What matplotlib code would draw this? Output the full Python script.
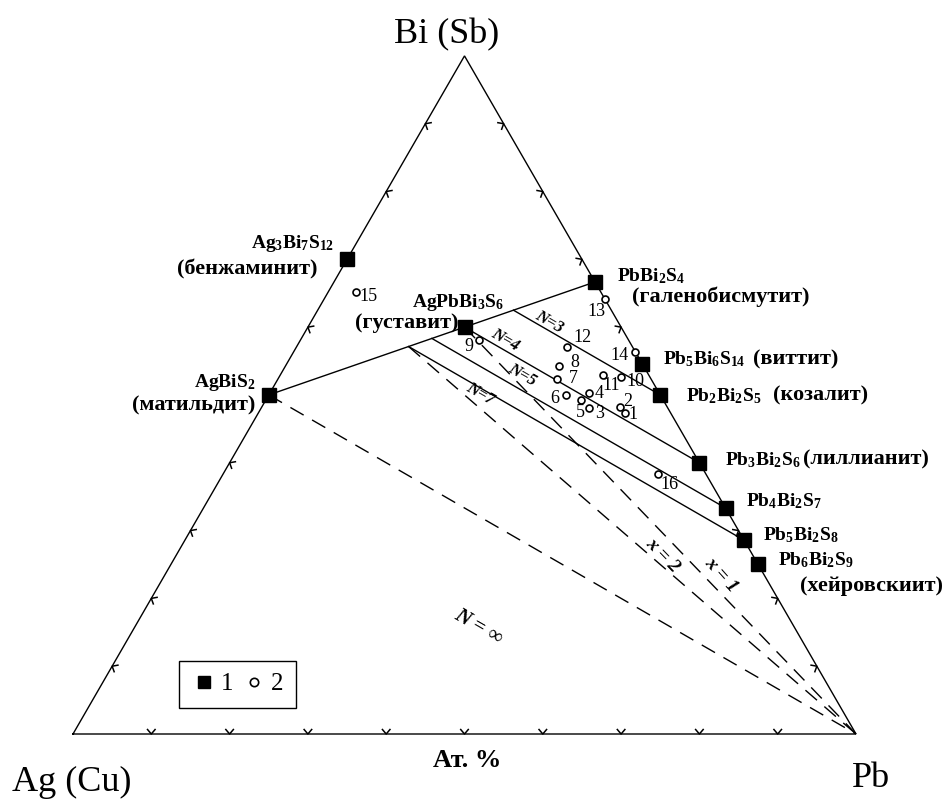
import numpy as np
import matplotlib.pyplot as plt
from matplotlib.lines import Line2D

plt.rcParams['font.family'] = 'Liberation Serif'
plt.rcParams['mathtext.fontset'] = 'custom'
plt.rcParams['mathtext.rm'] = 'Liberation Serif:bold'
plt.rcParams['mathtext.it'] = 'Liberation Serif:italic:bold'
plt.rcParams['mathtext.bf'] = 'Liberation Serif:bold'

H = np.sqrt(3) / 2

# minerals (atoms Ag, Bi, Pb)
min_formula = [r'AgBiS$_2$', r'Ag$_3$Bi$_7$S$_{12}$', r'AgPbBi$_3$S$_6$', r'PbBi$_2$S$_4$',
               r'Pb$_5$Bi$_6$S$_{14}$', r'Pb$_2$Bi$_2$S$_5$', r'Pb$_3$Bi$_2$S$_6$',
               r'Pb$_4$Bi$_2$S$_7$', r'Pb$_5$Bi$_2$S$_8$', r'Pb$_6$Bi$_2$S$_9$']
min_name = ['(матильдит)', '(бенжаминит)', '(густавит)', '(галенобисмутит)', '(виттит)',
            '(козалит)', '(лиллианит)', '', '', '(хейровскиит)']
min_ag = [1, 3, 1, 0, 0, 0, 0, 0, 0, 0]
min_bi = [1, 7, 3, 2, 6, 2, 2, 2, 2, 2]
min_pb = [0, 0, 1, 1, 5, 2, 3, 4, 5, 6]

# analyses (at. fractions Ag, Bi, Pb)
pt_label = ['1', '2', '3', '4', '5', '6', '7', '8', '9', '10', '11', '12', '13', '14', '15', '16']
pt_ag = [0.059, 0.061, 0.100, 0.089, 0.105, 0.121, 0.120, 0.108, 0.190, 0.037, 0.058, 0.083, 0.0, 0.0, 0.312, 0.062]
pt_bi = [0.473, 0.482, 0.481, 0.503, 0.493, 0.500, 0.524, 0.543, 0.581, 0.527, 0.530, 0.571, 0.641, 0.564, 0.652, 0.383]
pt_pb = [0.468, 0.457, 0.419, 0.408, 0.402, 0.379, 0.356, 0.349, 0.228, 0.436, 0.412, 0.346, 0.359, 0.436, 0.036, 0.555]

# homologue lines Ag(m) Pb(N-1-2m) Bi(2+m): from the AgBiS2-PbBi2S4 join to the Pb-Bi member
n_label = ['N=3', 'N=4', 'N=5', 'N=7']
n_pb = [2, 3, 4, 5]  # Pb atoms of the Pb-Bi end member where each line ends

# dashed rays to Pb corner (start compositions Ag, Bi, Pb)
ray_label = ['N = ∞', 'x = 1', 'x = 2']
ray_start = [(1, 1, 0), (1, 3, 1), (2, 4, 1)]


def tern(ag, bi, pb):
    ag, bi, pb = np.asarray(ag, float), np.asarray(bi, float), np.asarray(pb, float)
    s = ag + bi + pb
    return (pb + 0.5 * bi) / s, H * bi / s


def px2data(x, y):
    return (x - 73) / 783, (734 - y) / 783


fig = plt.figure(figsize=(9.49, 7.99), dpi=100)
ax = fig.add_axes([0, 0, 1, 1])
ax.set_xlim(-73 / 783, 876 / 783)
ax.set_ylim(-65 / 783, 734 / 783)
ax.axis('off')

lw = 1.0
# triangle
ax.plot([0, 1, 0.5, 0], [0, 0, H, 0], color='k', lw=lw, solid_joinstyle='miter')

# tick chevrons every 10 %
corners = np.array([[0, 0], [1, 0], [0.5, H]])
for i, j in [(0, 1), (1, 2), (2, 0)]:
    a, b = corners[i], corners[j]
    e = (b - a) / np.hypot(*(b - a))
    nrm = np.array([-e[1], e[0]])  # inward for counter-clockwise order
    ang = np.arctan2(nrm[1], nrm[0])
    for f in np.arange(1, 10) / 10:
        p = a + (b - a) * f
        size = 0.0075
        q1 = p + size * np.array([np.cos(ang + 0.7), np.sin(ang + 0.7)])
        q2 = p + size * np.array([np.cos(ang - 0.7), np.sin(ang - 0.7)])
        ax.plot([q1[0], p[0], q2[0]], [q1[1], p[1], q2[1]], color='k', lw=1.1)

# AgBiS2 - PbBi2S4 join
x, y = tern([1, 0], [1, 2], [0, 1])
ax.plot(x, y, color='k', lw=lw)

# homologue lines
n_text = [(549, 322), (505, 340), (522, 375), (480, 394)]
for lab, npb, tp in zip(n_label, n_pb, n_text):
    nn = npb + 1
    m = (nn - 2) / 2
    x, y = tern([m, 0], [2 + m, 2], [nn - 1 - 2 * m, npb])
    ax.plot(x, y, color='k', lw=lw)
    ax.text(*px2data(*tp), lab, rotation=-30,
            ha='center', va='center', fontsize=12, fontstyle='italic', fontweight='bold')

# dashed rays
ray_text = [(478, 627, -30, 15), (721, 575, -48, 14), (662, 555, -46, 14)]
for lab, s, tp in zip(ray_label, ray_start, ray_text):
    x, y = tern([s[0], 0], [s[1], 0], [s[2], 1])
    ax.plot(x, y, color='k', lw=lw, dashes=(11, 7))
    ax.text(*px2data(tp[0], tp[1]), lab, rotation=tp[2],
            ha='center', va='center', fontsize=tp[3], fontstyle='italic', fontweight='bold')

# minerals
mx, my = tern(min_ag, min_bi, min_pb)
ax.plot(mx, my, 's', color='k', ms=10, zorder=5)

# label offsets in pixels: formula (dx, dy, ha), name (dx, dy, ha)
form_off = [(-13, 12, 'right'), (-13, 16, 'right'), (-52, 25, 'left'), (22, 6, 'left'),
            (21, 5, 'left'), (26, -1, 'left'), (26, 3, 'left'), (21, 7, 'left'),
            (19, 5, 'left'), (20, 4, 'left')]
name_off = [(-13, -11, 'right'), (-30, -10, 'right'), (-6, 4, 'right'), (37, -15, 'left'),
            (111, 5, 'left'), (113, -1, 'left'), (104, 3, 'left'), (0, 0, 'left'),
            (0, 0, 'left'), (42, -22, 'left')]
for i in range(len(min_formula)):
    fo, no = form_off[i], name_off[i]
    ax.annotate(min_formula[i], (mx[i], my[i]), xytext=(fo[0] * 0.72, fo[1] * 0.72),
                textcoords='offset points', ha=fo[2], va='center', fontsize=14, fontweight='bold')
    if min_name[i]:
        ax.annotate(min_name[i], (mx[i], my[i]), xytext=(no[0] * 0.72, no[1] * 0.72),
                    textcoords='offset points', ha=no[2], va='center', fontsize=16, fontweight='bold')

# analyses
px, py = tern(pt_ag, pt_bi, pt_pb)
ax.plot(px, py, 'o', mfc='white', mec='k', mew=1.2, ms=5, zorder=6)
pt_off = [(8, -1), (8, 6), (10, -6), (10, -1), (0, -13), (-11, -4), (16, 0), (16, 3), (-11, -7),
          (15, -5), (8, -11), (15, 9), (-9, -12), (-16, -4), (12, -5), (12, -10)]
for i, lab in enumerate(pt_label):
    ax.annotate(lab, (px[i], py[i]), xytext=(pt_off[i][0] * 0.72, pt_off[i][1] * 0.72),
                textcoords='offset points', ha='center', va='center', fontsize=13)

# corner labels
ax.annotate('Bi (Sb)', (0.5, H), xytext=(-13, 15), textcoords='offset points',
            ha='center', va='center', fontsize=26)
ax.annotate('Ag (Cu)', (0, 0), xytext=(-1, -35), textcoords='offset points',
            ha='center', va='center', fontsize=26)
ax.annotate('Pb', (1, 0), xytext=(11, -32), textcoords='offset points',
            ha='center', va='center', fontsize=26)
ax.annotate('Ат. %', (0.5, 0), xytext=(2, -19), textcoords='offset points',
            ha='center', va='center', fontsize=19, fontweight='bold')

handles = [Line2D([], [], marker='s', ls='none', color='k', ms=9),
           Line2D([], [], marker='o', ls='none', mfc='white', mec='k', mew=1.2, ms=6)]
leg = ax.legend(handles, ['1', '2'], ncol=2, loc='lower left',
                bbox_to_anchor=(179 / 949, (799 - 708) / 799), bbox_transform=fig.transFigure,
                borderaxespad=0, fancybox=False, edgecolor='k', framealpha=1, fontsize=18,
                handlelength=1.0, handletextpad=0.18, columnspacing=0.32, borderpad=0.5)
leg.get_frame().set_linewidth(1.0)

fig.savefig('out.png', dpi=100)
